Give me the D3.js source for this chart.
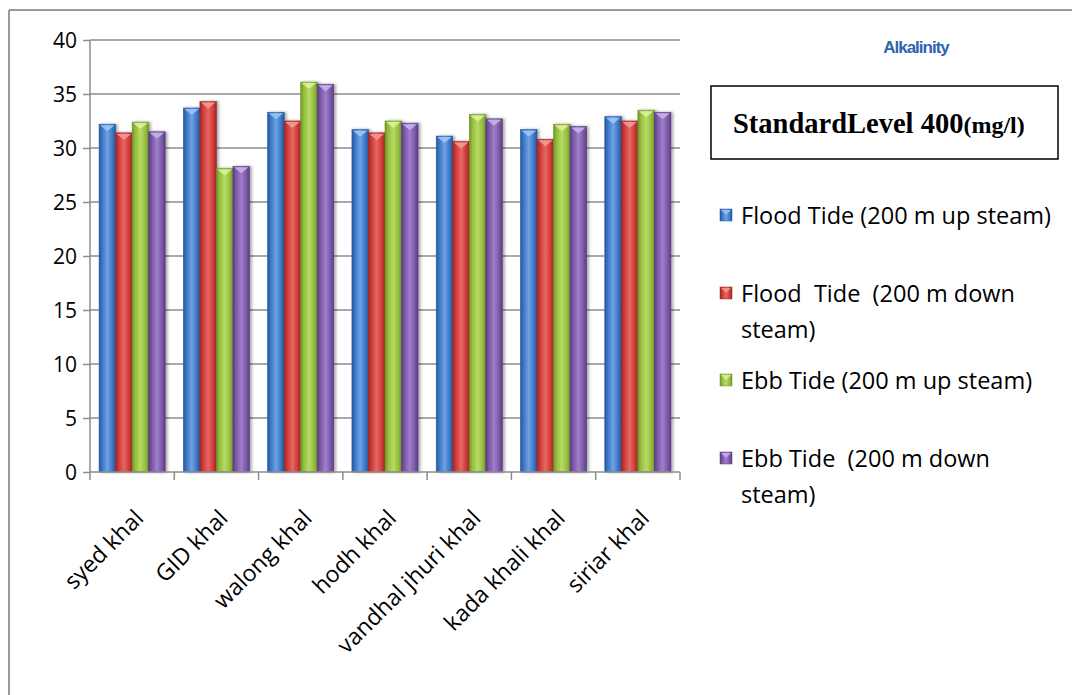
<!DOCTYPE html>
<html>
<head>
<meta charset="utf-8">
<script src="https://cdn.jsdelivr.net/npm/d3@7"></script>
<style>
  html, body { margin: 0; padding: 0; background: #fff; }
  svg { display: block; }
</style>
</head>
<body>
<svg id="chart" width="1072" height="695"></svg>
<script>
// Alkalinity at seven khals, four sampling conditions
const sites = ["syed khal", "GID khal", "walong khal", "hodh khal", "vandhal jhuri khal", "kada khali khal", "siriar khal"];
const seriesNames = [
  "Flood Tide (200 m up steam)",
  "Flood  Tide  (200 m down steam)",
  "Ebb Tide (200 m up steam)",
  "Ebb Tide  (200 m down steam)"
];
const floodUp   = [32.2, 33.7, 33.3, 31.7, 31.1, 31.7, 32.9];
const floodDown = [31.4, 34.3, 32.5, 31.4, 30.6, 30.8, 32.5];
const ebbUp     = [32.4, 28.1, 36.1, 32.5, 33.1, 32.2, 33.5];
const ebbDown   = [31.5, 28.3, 35.9, 32.3, 32.7, 32.0, 33.3];
const yTicks = [0, 5, 10, 15, 20, 25, 30, 35, 40];
const legendLines = [
  ["Flood Tide (200 m up steam)"],
  ["Flood  Tide  (200 m down", "steam)"],
  ["Ebb Tide (200 m up steam)"],
  ["Ebb Tide  (200 m down", "steam)"]
];
const seriesValues = [floodUp, floodDown, ebbUp, ebbDown];

const colors = [
  { base: "#3a76c4", light: "#6ea2e6", dark: "#24589e", cap: "#9cc4f2" },
  { base: "#cc3a36", light: "#e86763", dark: "#9e2624", cap: "#f29a96" },
  { base: "#93bd3e", light: "#b7db62", dark: "#6f942a", cap: "#dcf29a" },
  { base: "#7a56a6", light: "#9f7fca", dark: "#5a3d80", cap: "#c8b0ea" }
];

const svg = d3.select("#chart");
const defs = svg.append("defs");

colors.forEach((c, i) => {
  const g = defs.append("linearGradient").attr("id", "bar" + i)
    .attr("x1", "0").attr("x2", "1").attr("y1", "0").attr("y2", "0");
  g.append("stop").attr("offset", "0%").attr("stop-color", c.dark);
  g.append("stop").attr("offset", "18%").attr("stop-color", c.base);
  g.append("stop").attr("offset", "50%").attr("stop-color", c.light);
  g.append("stop").attr("offset", "82%").attr("stop-color", c.base);
  g.append("stop").attr("offset", "100%").attr("stop-color", c.dark);
});
const shadow = defs.append("filter").attr("id", "shadow")
  .attr("x", "-30%").attr("y", "-10%").attr("width", "160%").attr("height", "120%");
shadow.append("feGaussianBlur").attr("in", "SourceAlpha").attr("stdDeviation", 1.5).attr("result", "b");
shadow.append("feOffset").attr("in", "b").attr("dx", 2).attr("dy", 0).attr("result", "o");
shadow.append("feComponentTransfer").attr("in", "o").attr("result", "s")
  .append("feFuncA").attr("type", "linear").attr("slope", 0.35);
const m = shadow.append("feMerge");
m.append("feMergeNode").attr("in", "s");
m.append("feMergeNode").attr("in", "SourceGraphic");

// outer frame (top and left edges)
svg.append("line").attr("x1", 9).attr("x2", 1072).attr("y1", 10).attr("y2", 10)
  .attr("stroke", "#9a9a9a").attr("stroke-width", 2);
svg.append("line").attr("x1", 9).attr("x2", 9).attr("y1", 10).attr("y2", 695)
  .attr("stroke", "#9a9a9a").attr("stroke-width", 2);

const plot = { left: 90, right: 680, top: 40, bottom: 472 };

const x0 = d3.scaleBand().domain(sites).range([plot.left, plot.right]).paddingInner(0).paddingOuter(0);
const x1 = d3.scaleBand().domain(d3.range(seriesNames.length))
  .range([0, x0.bandwidth()]).paddingOuter(0.55).paddingInner(0);
const y = d3.scaleLinear().domain([0, 40]).range([plot.bottom, plot.top]);

const axisColor = "#8c8c8c";
const tickFont = "'Open Sans', 'DejaVu Sans', sans-serif";

// horizontal gridlines
svg.append("g").selectAll("line").data(yTicks.filter(d => d > 0)).join("line")
  .attr("x1", plot.left).attr("x2", plot.right)
  .attr("y1", d => y(d)).attr("y2", d => y(d))
  .attr("stroke", axisColor).attr("stroke-width", 1.5);

// bars
const groups = svg.append("g").selectAll("g").data(sites).join("g")
  .attr("transform", d => `translate(${x0(d)},0)`);

groups.each(function(site, si) {
  const g = d3.select(this);
  seriesValues.forEach((vals, k) => {
    const v = vals[si];
    const bx = x1(k), bw = x1.bandwidth();
    const by = y(v), bh = y(0) - y(v);
    g.append("rect")
      .attr("x", bx).attr("y", by).attr("width", bw).attr("height", bh)
      .attr("fill", `url(#bar${k})`)
      .attr("stroke", colors[k].dark).attr("stroke-width", 0.6)
      .attr("filter", "url(#shadow)");
    // bevelled top highlight
    g.append("path")
      .attr("d", `M${bx + 1},${by + 1} L${bx + bw - 1},${by + 1} L${bx + bw / 2},${by + 7} Z`)
      .attr("fill", colors[k].cap).attr("opacity", 0.9);
  });
});

// y axis
const yAxis = d3.axisLeft(y).tickValues(yTicks).tickSize(7).tickFormat(d3.format("d"));
const yg = svg.append("g").attr("transform", `translate(${plot.left},0)`).call(yAxis);
yg.select(".domain").attr("stroke", axisColor).attr("stroke-width", 1.5).attr("d", `M0,${plot.top}V${plot.bottom}`);
yg.selectAll(".tick line").attr("stroke", axisColor).attr("stroke-width", 1.5);
yg.selectAll(".tick text").attr("x", -13).attr("dy", "0.36em")
  .attr("font-family", tickFont).attr("font-size", 21).attr("fill", "#000");

// x axis
const xg = svg.append("g").attr("transform", `translate(0,${plot.bottom})`);
xg.append("line").attr("x1", plot.left).attr("x2", plot.right)
  .attr("stroke", axisColor).attr("stroke-width", 1.5);
const boundaries = sites.map(s => x0(s)).concat([plot.right]);
xg.selectAll("line.tk").data(boundaries).join("line").attr("class", "tk")
  .attr("x1", d => d).attr("x2", d => d).attr("y1", 0).attr("y2", 8)
  .attr("stroke", axisColor).attr("stroke-width", 1.5);
xg.selectAll("text").data(sites).join("text")
  .attr("transform", d => `translate(${x0(d) + x0.bandwidth() / 2 + 1},${36}) rotate(-45)`)
  .attr("text-anchor", "end").attr("dy", "0.72em")
  .attr("font-family", tickFont).attr("font-size", 23).attr("fill", "#000")
  .text(d => d);

// title
svg.append("text").attr("x", 916).attr("y", 53).attr("text-anchor", "middle")
  .attr("font-family", "'Liberation Sans', Arial, sans-serif").attr("font-weight", "bold")
  .attr("font-size", 17).attr("fill", "#2e64b0").attr("letter-spacing", -1)
  .text("Alkalinity");

// standard level box
svg.append("rect").attr("x", 711).attr("y", 86).attr("width", 347).attr("height", 73)
  .attr("fill", "#fff").attr("stroke", "#000").attr("stroke-width", 1.5);
const std = svg.append("text").attr("x", 733).attr("y", 133)
  .attr("font-family", "'Liberation Serif', 'Times New Roman', serif").attr("font-weight", "bold")
  .attr("fill", "#000");
std.append("tspan").attr("font-size", 28.5).text("StandardLevel 400");
std.append("tspan").attr("font-size", 24).text("(mg/l)");

// legend
const legendY = [216, 294, 381, 459];
const legend = svg.append("g");
legendLines.forEach((lines, i) => {
  const ly = legendY[i];
  legend.append("rect").attr("x", 720).attr("y", ly - 7).attr("width", 12).attr("height", 12)
    .attr("fill", `url(#bar${i})`).attr("stroke", colors[i].dark).attr("stroke-width", 0.5);
  legend.append("path")
    .attr("d", `M${721},${ly - 6} L${731},${ly - 6} L${726},${ly - 1} Z`)
    .attr("fill", colors[i].cap).attr("opacity", 0.85);
  lines.forEach((t, j) => {
    legend.append("text").attr("x", 741).attr("y", ly + j * 36).attr("dy", "0.35em")
      .attr("font-family", tickFont).attr("font-size", 23.5).attr("fill", "#000")
      .style("white-space", "pre").attr("xml:space", "preserve")
      .text(t);
  });
});
</script>
</body>
</html>
